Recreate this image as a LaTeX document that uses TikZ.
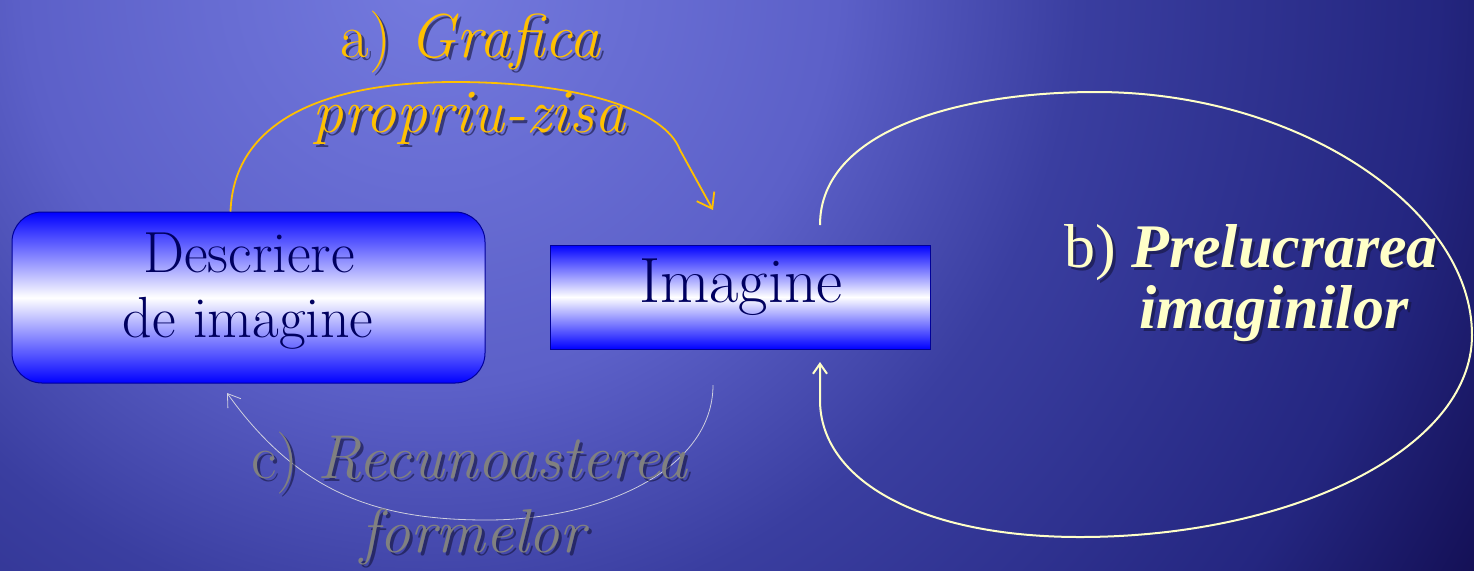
\documentclass[tikz,border=0pt]{standalone}
\usepackage{fontspec}
\newfontfamily\timesf{Liberation Serif}
\usetikzlibrary{arrows.meta}
\definecolor{bgA}{RGB}{116,122,222}
\definecolor{bgB}{RGB}{92,96,200}
\definecolor{bgC}{RGB}{58,62,160}
\definecolor{bgD}{RGB}{36,38,128}
\definecolor{bgE}{RGB}{20,16,86}
\definecolor{navy}{RGB}{0,0,96}
\definecolor{amber}{RGB}{255,192,0}
\definecolor{cream}{RGB}{255,255,200}
\definecolor{greyt}{RGB}{128,128,128}
\definecolor{shadowc}{RGB}{20,20,60}
\definecolor{boxblue}{RGB}{0,0,255}
\pgfdeclareradialshading{bgsh}{\pgfpoint{0bp}{0bp}}{color(0bp)=(bgA); color(8.5bp)=(bgB); color(13.5bp)=(bgC); color(21bp)=(bgD); color(25bp)=(bgE); color(50bp)=(bgE)}
\tikzset{
  boxshape/.style={draw=boxblue!60!black, line width=0.5pt, top color=boxblue, bottom color=boxblue, middle color=white, inner sep=0pt},
  boxtext/.style={text=navy, anchor=base, inner sep=0pt, font=\fontsize{29}{34}\selectfont},
  labA/.style={text=amber, anchor=base, inner sep=0pt, font=\fontsize{31}{36}\selectfont},
  labC/.style={text=greyt, anchor=base, inner sep=0pt, font=\fontsize{31}{36}\selectfont},
  labB/.style={text=cream, anchor=base, inner sep=0pt, font=\timesf\fontsize{31}{36}\selectfont},
  shad/.style={text=shadowc, text opacity=0.6},
  conA/.style={draw=amber, line width=0.9pt, -{Straight Barb[length=7pt,width=10pt,line width=0.9pt]}},
  conB/.style={draw=cream, line width=1pt, -{Straight Barb[length=5pt,width=7pt,line width=1pt]}},
  conC/.style={draw=white!80!gray, draw opacity=0.85, line width=0.4pt, -{Straight Barb[length=6pt,width=8pt,line width=0.4pt]}}
}
\begin{document}
\begin{tikzpicture}[x=0.5pt,y=-0.5pt]
\useasboundingbox (0,0) rectangle (1474,570);
\begin{scope}
\clip (0,0) rectangle (1474,570);
\shade[shading=bgsh] (430,-20) circle[radius=600pt];
\end{scope}
% boxes
\node[boxshape, rounded corners=15pt, minimum width=236.5pt, minimum height=85.5pt] (desc) at (248.5,297.5) {};
\node[boxshape, minimum width=190pt, minimum height=52pt] (img) at (740,297) {};
\node[boxtext] (descT1) at (249,272) {Descriere};
\node[boxtext] (descT2) at (248,337) {de imagine};
\node[boxtext, font=\fontsize{32}{36}\selectfont] (imgT) at (741,302) {Imagine};
% coordinates for free ends
\coordinate (aS) at ([xshift=-9pt]desc.north);
\coordinate (aE) at (713,210);
\coordinate (cS) at (713,385);
\coordinate (cE) at (227,393);
\coordinate (bS) at (820,225);
\coordinate (bE) at (820,362);
% connectors
\draw[conA] (aS) .. controls (234,118) and (330,82) .. (455,82)
  .. controls (580,82) and (665,110) .. (680,150) -- (aE);
\draw[conC] (cS) .. controls (713,470) and (600,520) .. (487,520)
  .. controls (380,520) and (300,495) .. (cE);
\draw[conB] (bS) .. controls (820,130) and (960,92) .. (1096,92)
  .. controls (1300,92) and (1472,210) .. (1472,335)
  .. controls (1472,450) and (1290,537) .. (1080,537)
  .. controls (920,537) and (820,480) .. (820,400) -- (bE);
% labels with shadows
\node[labA, shad] (aL1s) at (474,60) {a) \textit{Grafica}};
\node[labA, shad] (aL2s) at (472,135) {\textit{propriu-zisa}};
\node[labA] (aL1) at (471,57) {a) \textit{Grafica}};
\node[labA] (aL2) at (469,132) {\textit{propriu-zisa}};
\node[labC, shad] (cL1s) at (473,481) {c) \textit{Recunoasterea}};
\node[labC, shad] (cL2s) at (478,555) {\textit{formelor}};
\node[labC] (cL1) at (470,478) {c) \textit{Recunoasterea}};
\node[labC] (cL2) at (475,552) {\textit{formelor}};
\node[labB, shad] (bL1s) at (1254,270) {b) \textbf{\textit{Prelucrarea}}};
\node[labB, shad] (bL2s) at (1277,331) {\textbf{\textit{imaginilor}}};
\node[labB] (bL1) at (1251,267) {b) \textbf{\textit{Prelucrarea}}};
\node[labB] (bL2) at (1274,328) {\textbf{\textit{imaginilor}}};
\end{tikzpicture}
\end{document}
